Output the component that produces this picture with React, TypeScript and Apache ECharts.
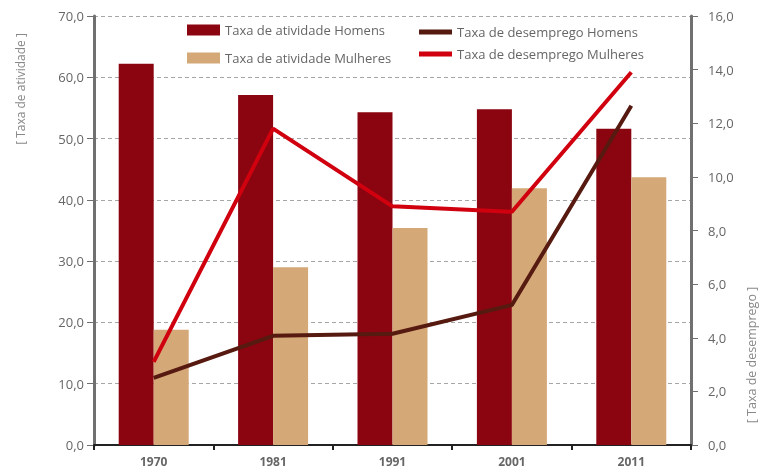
import React, { useEffect, useRef } from "react";
import * as echarts from "echarts";

const categories = ["1970", "1981", "1991", "2001", "2011"];
const atividadeHomens = [62.2, 57.1, 54.3, 54.8, 51.6];
const atividadeMulheres = [18.8, 29.0, 35.4, 41.9, 43.7];
const desempregoHomens = [2.5, 4.07, 4.15, 5.22, 12.65];
const desempregoMulheres = [3.1, 11.8, 8.9, 8.7, 13.9];

const FONT = "'Open Sans', 'Liberation Sans', sans-serif";
const GREY = "#666666";
const fmt = (v: number) => v.toFixed(1).replace(".", ",");

export default function App() {
  const ref = useRef<HTMLDivElement>(null);
  useEffect(() => {
    const chart = echarts.init(ref.current!, null, { renderer: "svg" });
    chart.setOption({
      animation: false,
      textStyle: { fontFamily: FONT },
      grid: { left: 94, right: 71, top: 16, bottom: 23 },
      legend: [
        {
          orient: "vertical",
          left: 182,
          top: 17,
          itemWidth: 33,
          itemHeight: 11,
          itemGap: 12,
          icon: "rect",
          textStyle: { fontFamily: FONT, fontSize: 13, color: GREY, lineHeight: 16 },
          data: ["Taxa de atividade Homens", "Taxa de atividade Mulheres"],
        },
        {
          orient: "vertical",
          left: 414,
          top: 19,
          itemWidth: 33,
          itemHeight: 5,
          itemGap: 6,
          icon: "rect",
          textStyle: { fontFamily: FONT, fontSize: 13, color: GREY, lineHeight: 16 },
          data: ["Taxa de desemprego Homens", "Taxa de desemprego Mulheres"],
        },
      ],
      xAxis: {
        type: "category",
        data: categories,
        axisLine: { lineStyle: { color: "#222222", width: 2 } },
        axisTick: { show: true, length: 5, lineStyle: { color: "#222222", width: 2 } },
        axisLabel: {
          color: GREY,
          fontWeight: "bold",
          fontSize: 12,
          lineHeight: 12,
          margin: 10,
          fontFamily: FONT,
        },
      },
      yAxis: [
        {
          type: "value",
          min: 0,
          max: 70,
          interval: 10,
          axisLine: { show: true, lineStyle: { color: "#707070", width: 3 } },
          axisTick: { show: true, length: 7, lineStyle: { color: "#707070", width: 1 } },
          axisLabel: { color: GREY, fontSize: 13, margin: 10, formatter: fmt, fontFamily: FONT },
          splitLine: { show: true, lineStyle: { color: "#a6a6a6", type: [4, 3], width: 1 } },
        },
        {
          type: "value",
          min: 0,
          max: 16,
          interval: 2,
          position: "right",
          axisLine: { show: true, lineStyle: { color: "#707070", width: 3 } },
          axisTick: { show: true, length: 7, lineStyle: { color: "#707070", width: 1 } },
          axisLabel: { color: GREY, fontSize: 13, margin: 17, formatter: fmt, fontFamily: FONT },
          splitLine: { show: false },
        },
      ],
      graphic: [
        {
          type: "text",
          x: 20,
          y: 89,
          rotation: Math.PI / 2,
          style: {
            text: "[ Taxa de atividade ]",
            fill: "#888888",
            font: `12px ${FONT}`,
            align: "center",
            verticalAlign: "middle",
          },
        },
        {
          type: "text",
          x: 751,
          y: 355,
          rotation: Math.PI / 2,
          style: {
            text: "[ Taxa de desemprego ]",
            fill: "#888888",
            font: `12.5px ${FONT}`,
            align: "center",
            verticalAlign: "middle",
          },
        },
      ],
      series: [
        {
          name: "Taxa de atividade Homens",
          type: "bar",
          data: atividadeHomens,
          barWidth: 35,
          barGap: "0%",
          itemStyle: { color: "#8b0510" },
        },
        {
          name: "Taxa de atividade Mulheres",
          type: "bar",
          data: atividadeMulheres,
          barWidth: 35,
          barGap: "0%",
          itemStyle: { color: "#d5a878" },
        },
        {
          name: "Taxa de desemprego Homens",
          type: "line",
          yAxisIndex: 1,
          data: desempregoHomens,
          showSymbol: false,
          symbol: "none",
          lineStyle: { color: "#561a10", width: 4 },
          itemStyle: { color: "#561a10" },
        },
        {
          name: "Taxa de desemprego Mulheres",
          type: "line",
          yAxisIndex: 1,
          data: desempregoMulheres,
          showSymbol: false,
          symbol: "none",
          lineStyle: { color: "#d0000f", width: 4 },
          itemStyle: { color: "#d0000f" },
        },
      ],
    });
    return () => chart.dispose();
  }, []);
  return <div ref={ref} style={{ width: 762, height: 468, position: "fixed", left: 0, top: 0 }} />;
}
